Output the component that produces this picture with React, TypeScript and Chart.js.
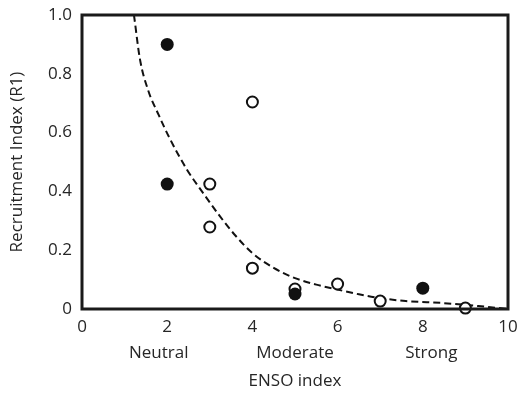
import React, { useEffect, useRef } from "react";
import { Chart, registerables } from "chart.js";

Chart.register(...registerables);

const xTickValues = [0, 2, 4, 6, 8, 10];
const yTickValues = [0, 0.2, 0.4, 0.6, 0.8, 1.0];

const filledX = [2, 2, 5, 8];
const filledY = [0.9, 0.425, 0.051, 0.071];

const openX = [3, 3, 4, 4, 5, 6, 7, 9];
const openY = [0.425, 0.279, 0.704, 0.139, 0.068, 0.085, 0.027, 0.003];

const curveX = [1.22, 1.36, 1.55, 1.8, 2.06, 2.46, 2.84, 3.24, 3.6, 4.0, 4.5, 5.0, 5.5, 6.0, 6.5, 7.0, 7.6, 8.5, 9.3, 10];
const curveY = [1.0, 0.85, 0.745, 0.66, 0.58, 0.475, 0.395, 0.315, 0.25, 0.19, 0.14, 0.105, 0.083, 0.066, 0.05, 0.037, 0.027, 0.02, 0.01, 0.0];

const categoryLabels = ["Neutral", "Moderate", "Strong"];
const categoryPos = [1.8, 5.0, 8.2];

const FONT = "'Open Sans', sans-serif";
const TEXT = "#262626";

export default function App() {
  const ref = useRef<HTMLCanvasElement | null>(null);

  useEffect(() => {
    if (!ref.current) return;

    const boxPlugin = {
      id: "boxAndCats",
      afterDatasetsDraw(chart: any) {
        const { ctx, chartArea } = chart;
        ctx.save();
        ctx.strokeStyle = "#1a1a1a";
        ctx.lineWidth = 3;
        ctx.strokeRect(chartArea.left, chartArea.top, chartArea.right - chartArea.left, chartArea.bottom - chartArea.top);
        ctx.fillStyle = TEXT;
        ctx.font = `17px ${FONT}`;
        ctx.textAlign = "center";
        ctx.textBaseline = "middle";
        const xs = chart.scales.x;
        categoryLabels.forEach((lab, i) => {
          ctx.fillText(lab, xs.getPixelForValue(categoryPos[i]), 353);
        });
        ctx.restore();
      },
    };

    const chart = new Chart(ref.current, {
      type: "scatter",
      data: {
        datasets: [
          {
            data: filledX.map((x, i) => ({ x, y: filledY[i] })),
            pointRadius: 6.5,
            pointBackgroundColor: "#111",
            pointBorderColor: "#111",
            pointBorderWidth: 0,
            clip: false as any,
          },
          {
            data: openX.map((x, i) => ({ x, y: openY[i] })),
            pointRadius: 5.5,
            pointBackgroundColor: "#fff",
            pointBorderColor: "#111",
            pointBorderWidth: 2,
            clip: false as any,
          },
          {
            type: "line" as any,
            data: curveX.map((x, i) => ({ x, y: curveY[i] })),
            showLine: true,
            borderColor: "#111",
            borderWidth: 2,
            borderDash: [7, 4],
            pointRadius: 0,
            tension: 0.4,
            cubicInterpolationMode: "monotone",
            fill: false,
          } as any,
        ],
      },
      options: {
        responsive: false,
        animation: false,
        events: [],
        layout: { padding: { left: 0, right: 12, top: 15, bottom: 0 } },
        plugins: { legend: { display: false }, tooltip: { enabled: false } },
        scales: {
          x: {
            type: "linear",
            min: 0,
            max: 10,
            afterBuildTicks: (s: any) => {
              s.ticks = xTickValues.map((v) => ({ value: v }));
            },
            ticks: {
              font: { family: FONT, size: 17 },
              color: TEXT,
              padding: 8,
              maxRotation: 0,
              autoSkip: false,
              callback: (v: any) => String(v),
            },
            grid: { display: false, drawTicks: false },
            border: { display: false },
            title: {
              display: true,
              text: "ENSO index",
              font: { family: FONT, size: 17 },
              color: TEXT,
              padding: { top: 0, bottom: 2 },
            },
            afterFit: (s: any) => {
              s.height = 84;
              s.paddingLeft = 0;
              s.paddingRight = 0;
            },
          },
          y: {
            type: "linear",
            min: 0,
            max: 1,
            afterBuildTicks: (s: any) => {
              s.ticks = yTickValues.map((v) => ({ value: v }));
            },
            ticks: {
              font: { family: FONT, size: 17 },
              color: TEXT,
              padding: 10,
              autoSkip: false,
              callback: (v: any) => (v === 0 ? "0" : Number(v).toFixed(1)),
            },
            grid: { display: false, drawTicks: false },
            border: { display: false },
            title: {
              display: true,
              text: "Recruitment Index (R1)",
              font: { family: FONT, size: 17 },
              color: TEXT,
              padding: { top: 7, bottom: 0 },
            },
            afterFit: (s: any) => {
              s.width = 82;
              s.paddingTop = 0;
              s.paddingBottom = 0;
            },
          },
        },
      },
      plugins: [boxPlugin],
    });

    return () => chart.destroy();
  }, []);

  return (
    <div style={{ position: "fixed", left: 0, top: 0, width: 520, height: 393, background: "#fff" }}>
      <canvas ref={ref} width={520} height={393} />
    </div>
  );
}
